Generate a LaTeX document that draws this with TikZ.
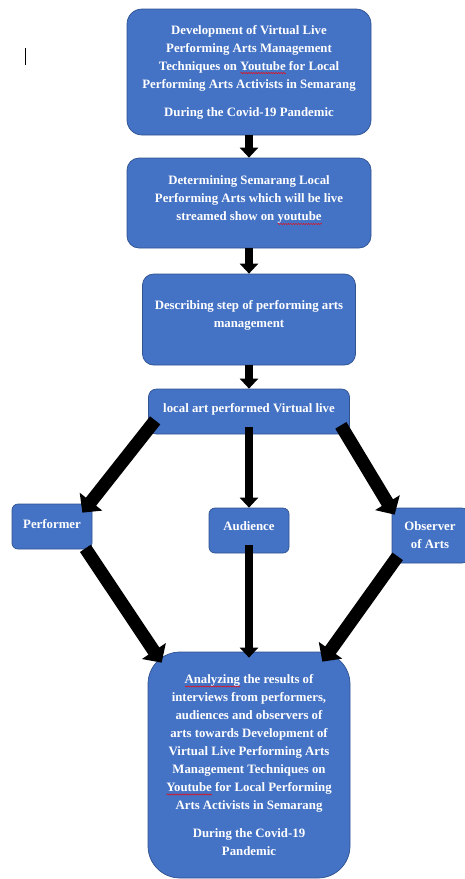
\documentclass[tikz,border=0pt]{standalone}
\usepackage{fontspec}
\setmainfont{Liberation Serif}
\usetikzlibrary{arrows.meta, positioning, calc, decorations.pathmorphing}
\definecolor{boxblue}{HTML}{4472C4}
\definecolor{boxedge}{HTML}{2F528F}
\newlength{\squigwd}
\newcommand{\squig}[1]{\settowidth{\squigwd}{#1}\rlap{\raisebox{-3pt}{\tikz[baseline=0pt, sharp corners, x=1pt, y=1pt]\draw[red, line width=0.4pt, decorate, decoration={snake, amplitude=0.6pt, segment length=2.5pt}] (0pt,0pt) -- (\squigwd,0pt);}}#1}

\begin{document}
\begin{tikzpicture}[x=1pt, y=-1pt,
    every node/.style={rectangle, draw=boxedge, fill=boxblue, text=white, line width=0.7pt,
        align=center, inner sep=2pt, font=\bfseries\fontsize{12.8}{18}\selectfont},
    vert/.style={line width=8.5pt, -{Triangle[length=10pt, width=18pt]}},
    slant/.style={line width=13pt, -{Triangle[length=14pt, width=28pt]}}]
    \useasboundingbox (0,0) rectangle (465,879);
    \clip (0,0) rectangle (465,879);
    \draw[line width=1pt] (25,48) -- (25,65);

    \node[minimum width=244pt, minimum height=126pt, rounded corners=15pt] (dev) at (249,72)
        {Development of Virtual Live\\Performing Arts Management\\Techniques on \squig{Youtube} for Local\\Performing Arts Activists in Semarang\\[10pt]During the Covid-19 Pandemic};
    \node[minimum width=244pt, minimum height=90pt, rounded corners=12pt, text depth=9pt] (det) at (249,203)
        {Determining Semarang Local\\Performing Arts which will be live\\streamed show on \squig{youtube}};
    \node[minimum width=213pt, minimum height=91pt, rounded corners=11pt, text depth=11pt] (desc) at (249,319.5)
        {Describing step of performing arts\\management};
    \node[minimum width=201pt, minimum height=45pt, rounded corners=8pt, text depth=7pt] (local) at (249,411.5)
        {local art performed Virtual live};
    \node[minimum width=80pt, minimum height=45pt, rounded corners=6pt, text depth=6pt] (perf) at (52,526.5) {Performer};
    \node[minimum width=80pt, minimum height=45pt, rounded corners=6pt, text depth=8pt] (aud) at (249,530.5) {Audience};
    \node[minimum width=76pt, minimum height=55pt, rounded corners=6pt] (obs) at (430,535.5) {Observer\\of Arts};
    \node[minimum width=202pt, minimum height=226pt, rounded corners=32pt] (final) at (249,765)
        {\squig{Analyzing} the results of\\interviews from performers,\\audiences and observers of\\arts towards Development of\\Virtual Live Performing Arts\\Management Techniques on\\\squig{Youtube} for Local Performing\\Arts Activists in Semarang\\[10pt]During the Covid-19\\Pandemic};

    % arrows down the middle
    \draw[vert] (dev) -- (det);
    \draw[vert] (det) -- (desc);
    \draw[vert] (desc) -- (local);
    \draw[vert, shorten <=-7pt] (local) -- (aud);
    \draw[vert, shorten <=-8pt, shorten >=-6pt] (aud) -- (final);

    % slanted arrows
    \draw[slant] ([xshift=7pt, yshift=14pt]local.south west) -- ([xshift=-10pt, yshift=-9pt]perf.north east);
    \draw[slant] ([xshift=-9pt, yshift=9pt]local.south east) -- ([xshift=3pt, yshift=-7pt]obs.north west);
    \draw[slant] ([xshift=-7pt, yshift=1pt]perf.south east) -- ([xshift=14pt, yshift=-11pt]final.north west);
    \draw[slant] ([xshift=6pt, yshift=7pt]obs.south west) -- ([xshift=-28pt, yshift=-10pt]final.north east);
\end{tikzpicture}
\end{document}
